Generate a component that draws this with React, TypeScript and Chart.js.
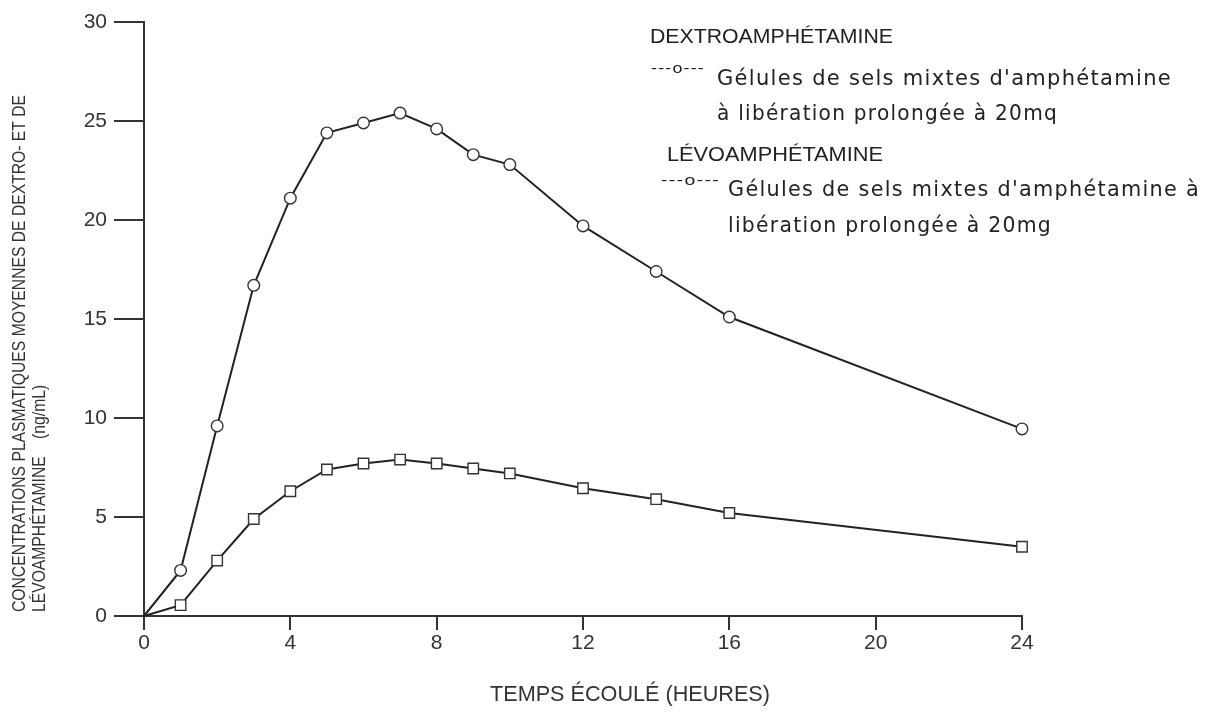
import React, { useEffect, useRef } from "react";
import { Chart, registerables } from "chart.js";

Chart.register(...registerables);

// ---- data ----
const hours = [0, 1, 2, 3, 4, 5, 6, 7, 8, 9, 10, 12, 14, 16, 24];
const dextro = [0, 2.3, 9.6, 16.7, 21.1, 24.4, 24.9, 25.4, 24.6, 23.3, 22.8, 19.7, 17.4, 15.1, 9.45];
const levo = [0, 0.55, 2.8, 4.9, 6.3, 7.4, 7.7, 7.9, 7.7, 7.45, 7.2, 6.45, 5.9, 5.2, 3.5];
const xTicks = [0, 4, 8, 12, 16, 20, 24];
const yTicks = [0, 5, 10, 15, 20, 25, 30];

const seriesNames = ["DEXTROAMPHÉTAMINE", "LÉVOAMPHÉTAMINE"];
const legendMarker = "---o---";
const dextroLabel = ["Gélules de sels mixtes d'amphétamine", "à libération prolongée à 20mq"];
const levoLabel = ["Gélules de sels mixtes d'amphétamine à", "libération prolongée à 20mg"];
const xTitle = "TEMPS ÉCOULÉ (HEURES)";
const yTitle = ["CONCENTRATIONS PLASMATIQUES MOYENNES DE DEXTRO- ET DE", "LÉVOAMPHÉTAMINE    (ng/mL)"];

// ---- styling / layout ----
const INK = "#222222";
const SANS = "'Liberation Sans', Arial, sans-serif";
const LABEL_FONT = "'DejaVu Sans', sans-serif";

type TextItem = {
  text: string;
  x: number;
  y: number; // baseline
  font: string;
  width?: number; // target rendered width
  sameScaleAs?: number; // reuse horizontal scale of another item
  spacing?: number;
  rotate?: boolean;
  color?: string;
};

const textLayout: TextItem[] = [
  // legend
  { text: seriesNames[0], x: 650, y: 43, font: `21px ${SANS}`, width: 243 },
  { text: legendMarker, x: 651, y: 73, font: `15px ${SANS}`, width: 54, spacing: 1 },
  { text: dextroLabel[0], x: 717, y: 85, font: `21px ${LABEL_FONT}`, width: 455, spacing: 1.3 },
  { text: dextroLabel[1], x: 717, y: 120, font: `21px ${LABEL_FONT}`, width: 341, spacing: 1.3 },
  { text: seriesNames[1], x: 667, y: 161, font: `21px ${SANS}`, width: 216 },
  { text: legendMarker, x: 661, y: 185, font: `15px ${SANS}`, width: 59, spacing: 1 },
  { text: levoLabel[0], x: 728, y: 196, font: `21px ${LABEL_FONT}`, width: 472, spacing: 1.3 },
  { text: levoLabel[1], x: 728, y: 232, font: `21px ${LABEL_FONT}`, width: 324, spacing: 1.3 },
  // axis titles
  { text: xTitle, x: 490, y: 701, font: `22px ${SANS}`, width: 280, color: "#333" },
  { text: yTitle[0], x: 25, y: 612, font: `18px ${SANS}`, width: 517, rotate: true, color: "#333" },
  { text: yTitle[1], x: 45, y: 612, font: `18px ${SANS}`, sameScaleAs: 9, rotate: true, color: "#333" },
];

const textPlugin = {
  id: "fittedTexts",
  afterDraw(chart: any) {
    const ctx = chart.ctx as CanvasRenderingContext2D;
    const scales: number[] = [];
    textLayout.forEach((item, idx) => {
      ctx.save();
      ctx.fillStyle = item.color || INK;
      ctx.textAlign = "left";
      ctx.textBaseline = "alphabetic";
      ctx.font = item.font;
      (ctx as any).letterSpacing = `${item.spacing || 0}px`;
      const w = ctx.measureText(item.text).width;
      let sx = 1;
      if (item.sameScaleAs !== undefined) sx = scales[item.sameScaleAs] ?? 1;
      else if (item.width && w > 0) sx = item.width / w;
      scales[idx] = sx;
      ctx.translate(item.x, item.y);
      if (item.rotate) ctx.rotate(-Math.PI / 2);
      ctx.scale(sx, 1);
      ctx.fillText(item.text, 0, 0);
      ctx.restore();
    });
  },
};

export default function App() {
  const canvasRef = useRef<HTMLCanvasElement | null>(null);

  useEffect(() => {
    if (!canvasRef.current) return;
    const pointR = (r: number) => (c: any) => (c.dataIndex === 0 ? 0 : r);
    const chart = new Chart(canvasRef.current, {
      type: "line",
      data: {
        datasets: [
          {
            label: seriesNames[0],
            data: hours.map((h, i) => ({ x: h, y: dextro[i] })),
            borderColor: INK,
            borderWidth: 2,
            pointStyle: "circle",
            pointRadius: pointR(5.8),
            pointBackgroundColor: "#ffffff",
            pointBorderColor: "#333333",
            pointBorderWidth: 1.4,
            tension: 0,
            clip: false,
          },
          {
            label: seriesNames[1],
            data: hours.map((h, i) => ({ x: h, y: levo[i] })),
            borderColor: INK,
            borderWidth: 2,
            pointStyle: "rect",
            pointRadius: pointR(7.4),
            pointBackgroundColor: "#ffffff",
            pointBorderColor: "#333333",
            pointBorderWidth: 1.4,
            tension: 0,
            clip: false,
          },
        ],
      },
      options: {
        animation: false,
        responsive: false,
        devicePixelRatio: 1,
        layout: { padding: { top: 22, right: 187, left: 0, bottom: 0 } },
        plugins: { legend: { display: false }, tooltip: { enabled: false } },
        scales: {
          x: {
            type: "linear",
            min: 0,
            max: 24,
            afterBuildTicks: (s: any) => {
              s.ticks = xTicks.map((v) => ({ value: v }));
            },
            afterFit: (s: any) => {
              s.height = 99;
            },
            grid: { display: true, drawOnChartArea: false, drawTicks: true, tickLength: 14, color: "#333", lineWidth: 2 },
            border: { display: true, color: "#333", width: 2 },
            ticks: { color: "#333", font: { family: SANS, size: 21 }, padding: 1, maxRotation: 0 },
            title: { display: false },
          },
          y: {
            type: "linear",
            min: 0,
            max: 30,
            afterBuildTicks: (s: any) => {
              s.ticks = yTicks.map((v) => ({ value: v }));
            },
            afterFit: (s: any) => {
              s.width = 144;
            },
            grid: { display: true, drawOnChartArea: false, drawTicks: true, tickLength: 30, color: "#333", lineWidth: 2 },
            border: { display: true, color: "#333", width: 2 },
            ticks: { color: "#333", font: { family: SANS, size: 21 }, padding: 7 },
            title: { display: false },
          },
        },
      },
      plugins: [textPlugin],
    } as any);
    return () => chart.destroy();
  }, []);

  return (
    <div style={{ position: "fixed", left: 0, top: 0, width: 1209, height: 715, background: "#fff" }}>
      <canvas ref={canvasRef} width={1209} height={715} style={{ display: "block" }} />
    </div>
  );
}
